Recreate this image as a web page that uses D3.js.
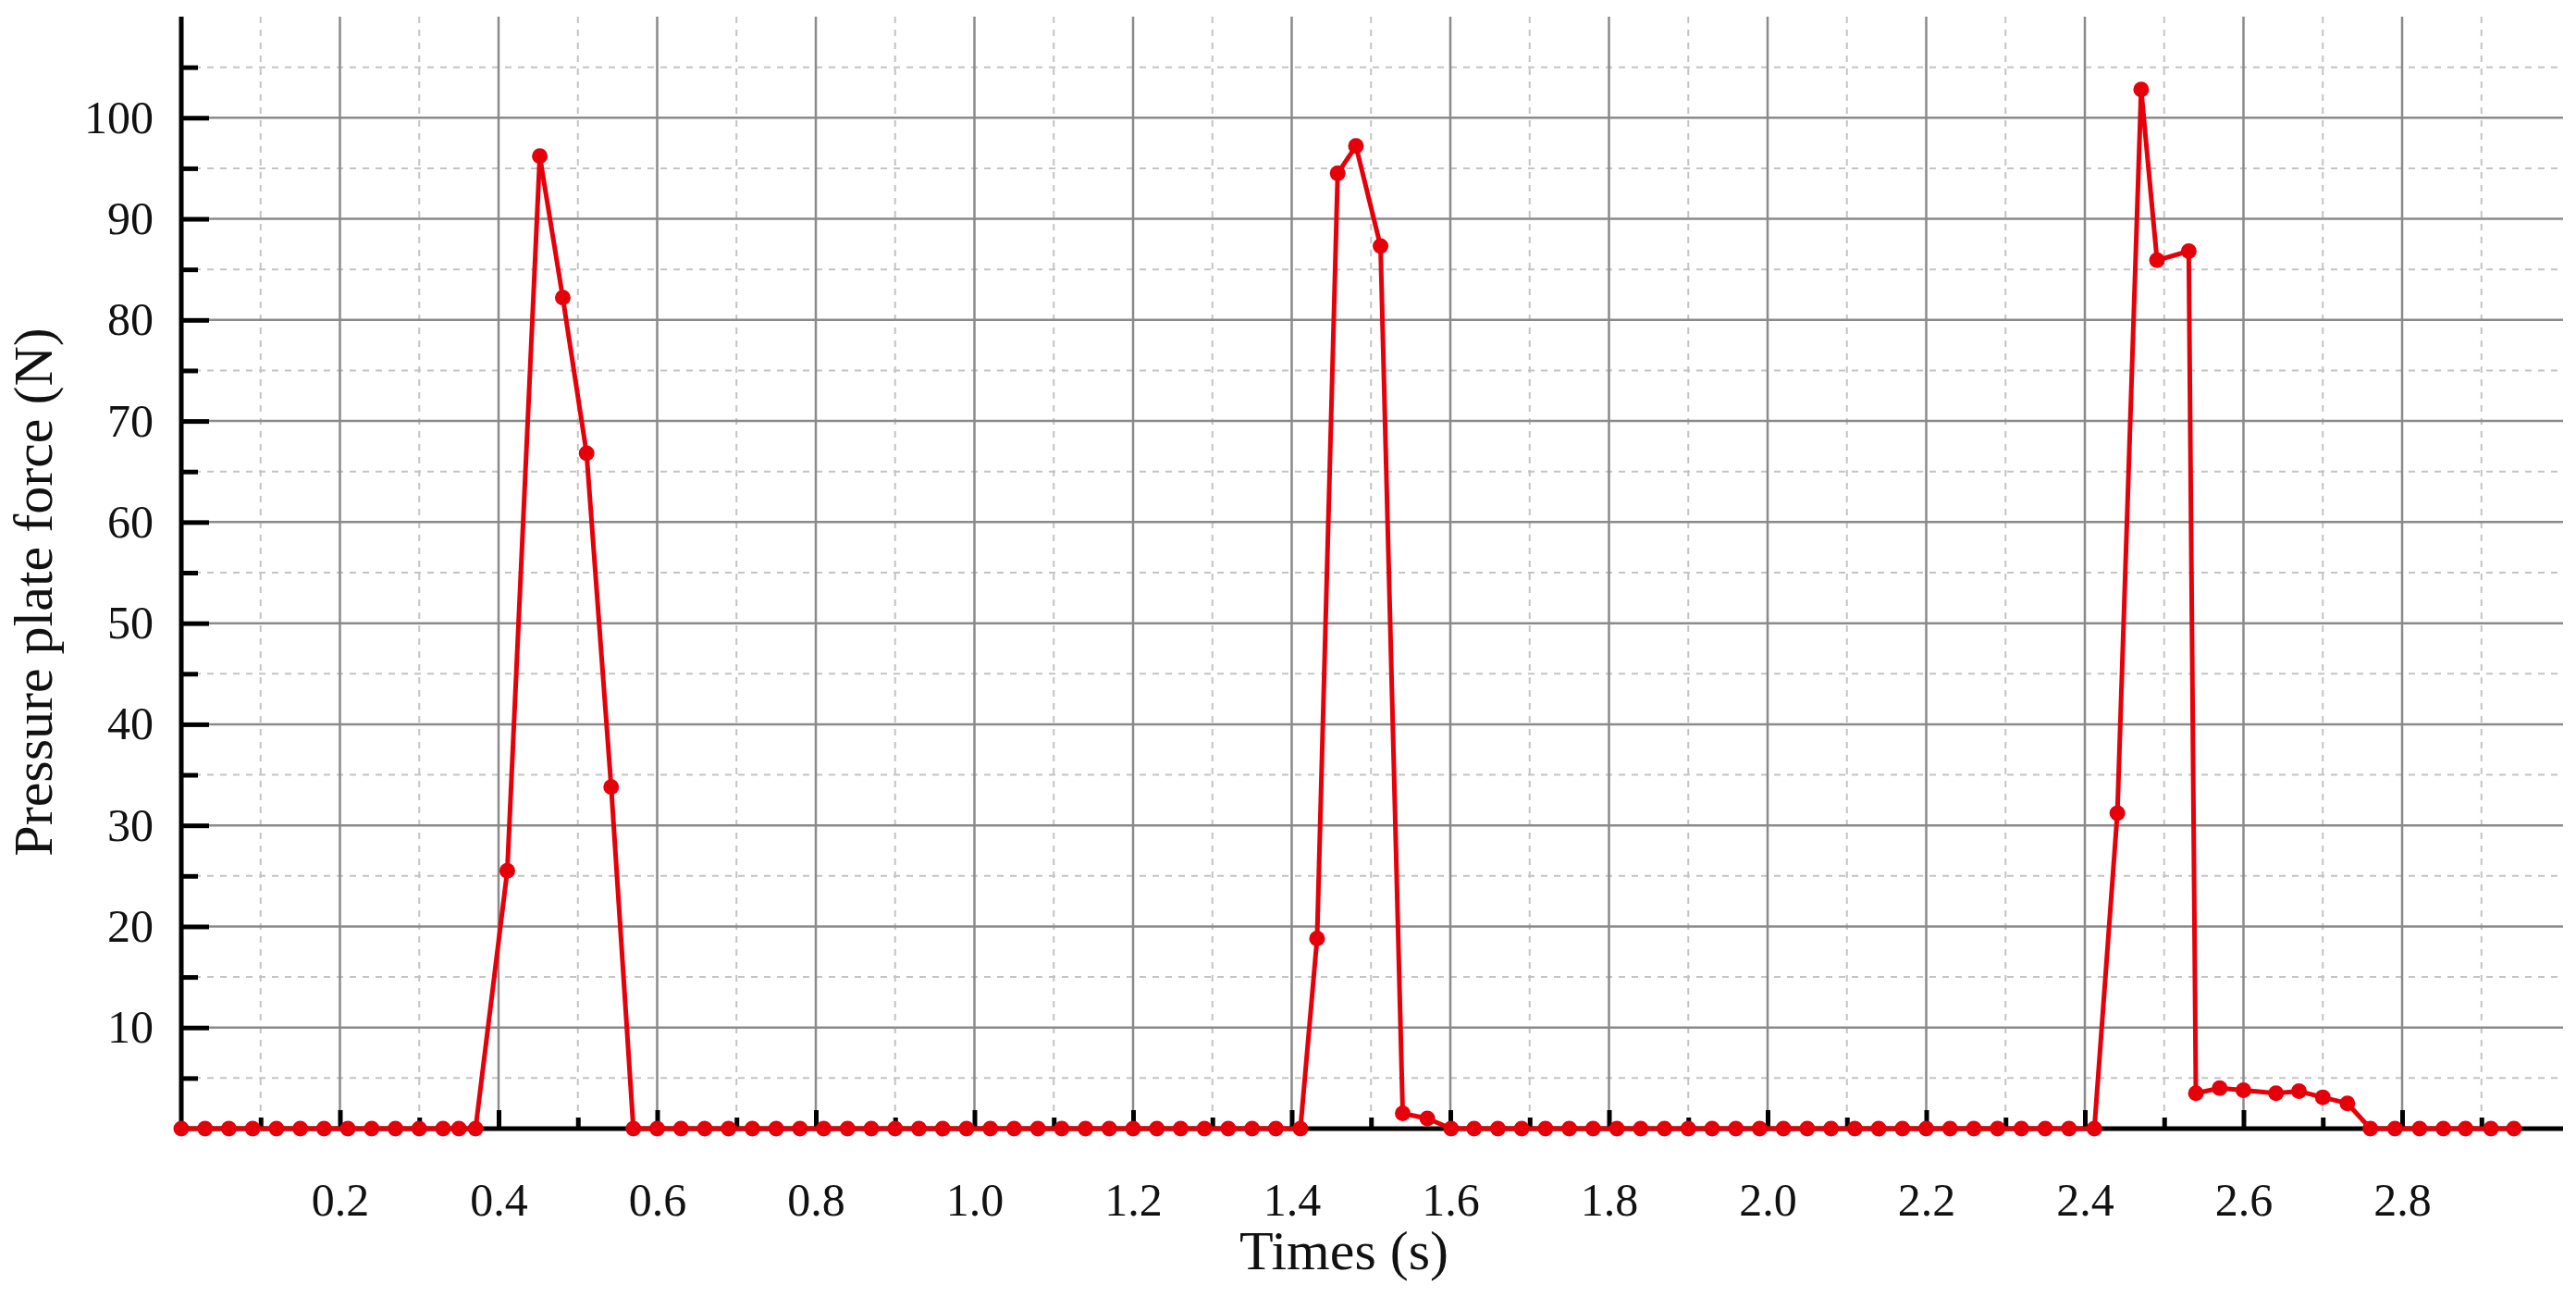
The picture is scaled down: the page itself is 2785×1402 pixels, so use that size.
<!DOCTYPE html>
<html>
<head>
<meta charset="utf-8">
<script src="https://cdn.jsdelivr.net/npm/d3@7"></script>
<style>
  body { margin: 0; background: #fff; }
  text { font-family: "Liberation Serif", "DejaVu Serif", serif; }
</style>
</head>
<body>
<svg id="chart" width="2785" height="1402"></svg>
<script>
// time samples (s) and pressure plate force (N)
const times = [
  0.00, 0.03, 0.06, 0.09, 0.12, 0.15, 0.18, 0.21, 0.24, 0.27, 0.30, 0.33, 0.35, 0.371,
  0.411, 0.452, 0.481, 0.511, 0.542, 0.570,
  0.60, 0.63, 0.66, 0.69, 0.72, 0.75, 0.78, 0.81, 0.84, 0.87, 0.90, 0.93, 0.96, 0.99,
  1.02, 1.05, 1.08, 1.11, 1.14, 1.17, 1.20, 1.23, 1.26, 1.29, 1.32, 1.35, 1.38,
  1.411, 1.432, 1.458, 1.481, 1.512, 1.540, 1.571, 1.601,
  1.63, 1.66, 1.69, 1.72, 1.75, 1.78, 1.81, 1.84, 1.87, 1.90, 1.93, 1.96, 1.99,
  2.02, 2.05, 2.08, 2.11, 2.14, 2.17, 2.20, 2.23, 2.26, 2.29, 2.32, 2.35, 2.38,
  2.412, 2.441, 2.471, 2.491, 2.531, 2.540, 2.570, 2.600, 2.641, 2.670, 2.700, 2.731, 2.760,
  2.791, 2.822, 2.852, 2.880, 2.912, 2.941
];
const force = [
  0, 0, 0, 0, 0, 0, 0, 0, 0, 0, 0, 0, 0, 0,
  25.5, 96.2, 82.2, 66.8, 33.8, 0,
  0, 0, 0, 0, 0, 0, 0, 0, 0, 0, 0, 0, 0, 0,
  0, 0, 0, 0, 0, 0, 0, 0, 0, 0, 0, 0, 0,
  0, 18.8, 94.5, 97.2, 87.3, 1.5, 1.0, 0,
  0, 0, 0, 0, 0, 0, 0, 0, 0, 0, 0, 0, 0,
  0, 0, 0, 0, 0, 0, 0, 0, 0, 0, 0, 0, 0,
  0, 31.2, 102.8, 85.9, 86.8, 3.5, 4.0, 3.8, 3.5, 3.7, 3.1, 2.5, 0,
  0, 0, 0, 0, 0, 0
];
const xTicks = [0.2, 0.4, 0.6, 0.8, 1.0, 1.2, 1.4, 1.6, 1.8, 2.0, 2.2, 2.4, 2.6, 2.8];
const yTicks = [10, 20, 30, 40, 50, 60, 70, 80, 90, 100];

const data = times.map((t, i) => ({t, f: force[i]}));

const svg = d3.select("#chart");
const mLeft = 196, mRight = 2771, mTop = 18, mBottom = 1220;

const x = d3.scaleLinear().domain([0, 3]).range([mLeft, mLeft + 3 * 857.5]);
const y = d3.scaleLinear().domain([0, 110]).range([mBottom, mTop]);

const xMinorVals = d3.range(1, 30, 2).map(i => i / 10);
const yMinorVals = d3.range(5, 110, 10);

const grid = svg.append("g");
// minor grid (dashed)
grid.append("g").selectAll("line").data(xMinorVals).join("line")
    .attr("x1", d => x(d)).attr("x2", d => x(d)).attr("y1", mTop).attr("y2", mBottom)
    .attr("stroke", "#c4c4c4").attr("stroke-width", 2).attr("stroke-dasharray", "7,7");
grid.append("g").selectAll("line").data(yMinorVals).join("line")
    .attr("x1", mLeft).attr("x2", mRight).attr("y1", d => y(d)).attr("y2", d => y(d))
    .attr("stroke", "#c4c4c4").attr("stroke-width", 2).attr("stroke-dasharray", "7,7");
// major grid
grid.append("g").selectAll("line").data(xTicks).join("line")
    .attr("x1", d => x(d)).attr("x2", d => x(d)).attr("y1", mTop).attr("y2", mBottom)
    .attr("stroke", "#8a8a8a").attr("stroke-width", 2.5);
grid.append("g").selectAll("line").data(yTicks).join("line")
    .attr("x1", mLeft).attr("x2", mRight).attr("y1", d => y(d)).attr("y2", d => y(d))
    .attr("stroke", "#8a8a8a").attr("stroke-width", 2.5);

// axes
const xAxis = svg.append("g").attr("transform", `translate(0,${mBottom})`)
    .call(d3.axisBottom(x).tickValues(xTicks).tickFormat(d3.format(".1f")).tickSize(-20).tickPadding(58));
const xMinor = svg.append("g").attr("transform", `translate(0,${mBottom})`)
    .call(d3.axisBottom(x).tickValues(xMinorVals).tickFormat("").tickSize(-12));
const yAxis = svg.append("g").attr("transform", `translate(${mLeft},0)`)
    .call(d3.axisLeft(y).tickValues(yTicks).tickSize(-30).tickPadding(30));
const yMinor = svg.append("g").attr("transform", `translate(${mLeft},0)`)
    .call(d3.axisLeft(y).tickValues(yMinorVals).tickFormat("").tickSize(-18));

for (const g of [xAxis, xMinor, yAxis, yMinor]) {
  g.select(".domain").remove();
  g.selectAll(".tick line").attr("stroke", "#000").attr("stroke-width", 5);
  g.selectAll("text").attr("fill", "#111").attr("font-size", 50)
    .attr("font-family", "Liberation Serif");
}

svg.append("line").attr("x1", mLeft).attr("x2", mLeft).attr("y1", mTop).attr("y2", mBottom + 2.5)
    .attr("stroke", "#000").attr("stroke-width", 5);
svg.append("line").attr("x1", mLeft - 2.5).attr("x2", mRight).attr("y1", mBottom).attr("y2", mBottom)
    .attr("stroke", "#000").attr("stroke-width", 5);

// series
const red = "#e5000a";
svg.append("path").datum(data)
    .attr("fill", "none").attr("stroke", red).attr("stroke-width", 5).attr("stroke-linejoin", "round")
    .attr("d", d3.line().x(d => x(d.t)).y(d => y(d.f)));
svg.append("g").selectAll("circle").data(data).join("circle")
    .attr("cx", d => x(d.t)).attr("cy", d => y(d.f)).attr("r", 8.5).attr("fill", red);

// titles
svg.append("text").attr("x", 1453).attr("y", 1372).attr("text-anchor", "middle")
    .attr("font-size", 60).attr("fill", "#111").text("Times (s)");
svg.append("text").attr("transform", "translate(56,640) rotate(-90)").attr("text-anchor", "middle")
    .attr("font-size", 60).attr("fill", "#111").text("Pressure plate force (N)");
</script>
</body>
</html>
